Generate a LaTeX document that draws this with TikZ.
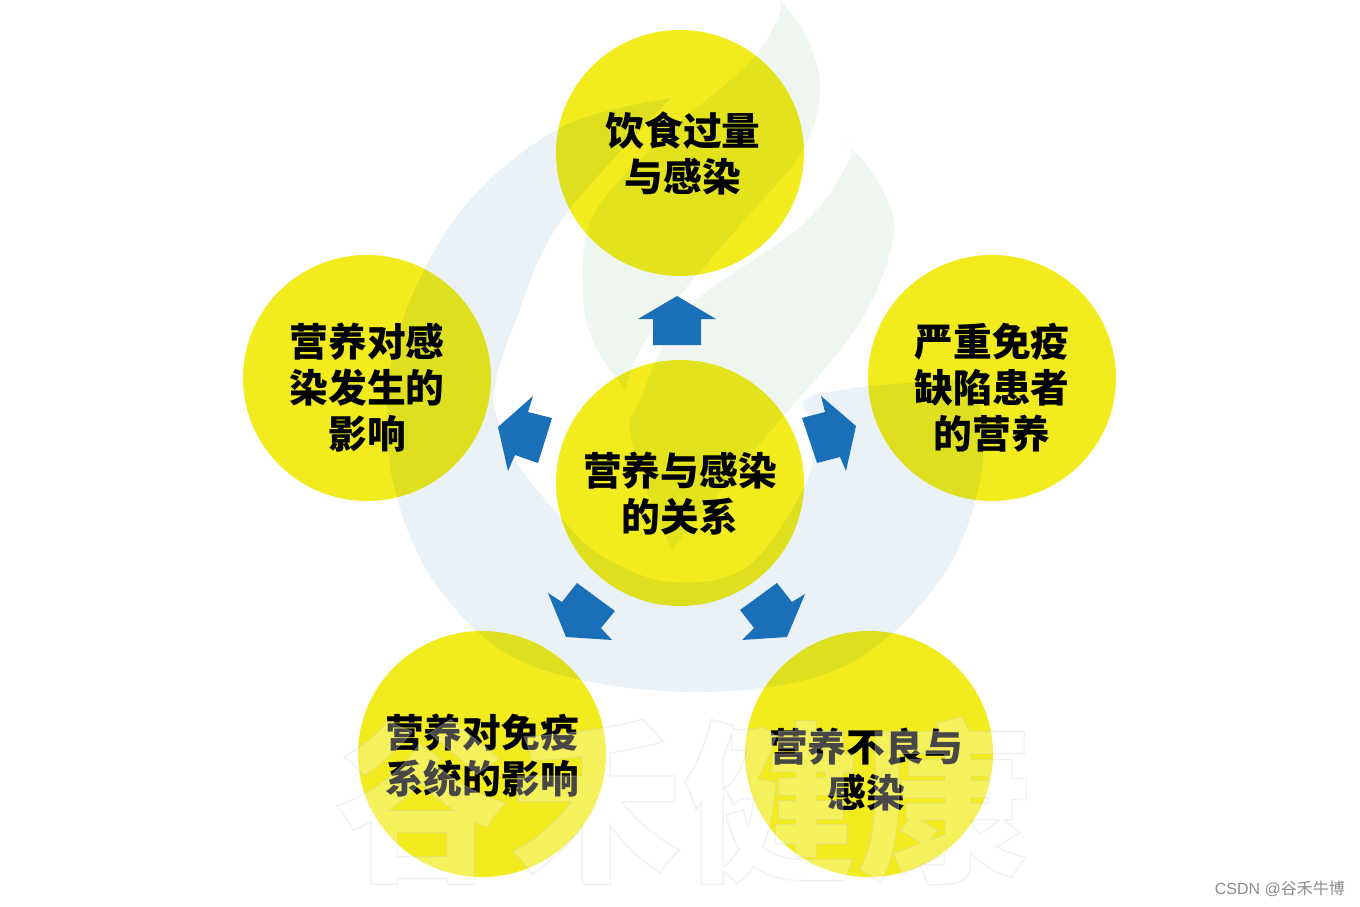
\documentclass[tikz,border=0pt]{standalone}
\usepackage{fontspec}
\setmainfont{Noto Sans CJK SC}
\newfontfamily\latinfont{Liberation Sans}
\usetikzlibrary{shapes.geometric}
\definecolor{disc}{HTML}{F2EC1F}
\definecolor{swoosh}{HTML}{EAF2F8}
\definecolor{flame}{HTML}{EFF6EF}
\definecolor{arrowblue}{HTML}{1A70B8}
\tikzset{
  disc/.style={ellipse,fill=disc,minimum width=248pt,minimum height=246pt,inner sep=0pt},
  lab/.style={align=center,text=black,inner sep=0pt,font=\bfseries\fontsize{38.7}{46}\selectfont},
  blockarrow/.style={fill=arrowblue,draw=none},
  mult/.style={blend mode=multiply}
}
\begin{document}
\begin{tikzpicture}[x=1pt,y=-1pt]
\useasboundingbox (0,0) rectangle (1360,907);
\fill[white] (0,0) rectangle (1360,907);
% discs
\node[disc] (top) at (680,153) {};
\node[disc] (right) at (992,378) {};
\node[disc] (left) at (367,378) {};
\node[disc] (mid) at (680,483) {};
\node[disc] (bl) at (482,754) {};
\node[disc] (br) at (869,754) {};
% background emblem
\begin{scope}[mult]
\fill[swoosh] (671,98)
  plot[smooth,tension=.6] coordinates {(671,98) (564,126) (470,200) (411,298) (388,390) (395,490) (440,590) (530,665) (690,692) (840,668) (940,580) (982,470) (975,378)}
  -- (868,386) -- (815,394) [rounded corners=6pt] -- (800,402) [sharp corners]
  -- plot[smooth,tension=.6] coordinates {(812,420) (813,447) (803,490) (747,567) (670,582) (600,555) (557,513) (517,463) (495,410) (496,380) (514,325) (560,222) (671,98)}
  -- cycle;
\fill[flame] plot[smooth,tension=.6] coordinates {(780,0) (808,40) (820,92) (801,153) (740,225) (671,306) (640,350) (625,390)}
  -- plot[smooth,tension=.6] coordinates {(625,390) (595,345) (583,295) (594,214) (667,134) (747,65) (778,19) (780,0)} -- cycle;
\fill[flame] plot[smooth,tension=.6] coordinates {(847,143) (880,185) (893,237) (858,325) (763,440) (700,515) (672,550)}
  -- plot[smooth,tension=.6] coordinates {(672,550) (650,500) (630,430) (640,400) (686,310) (801,226) (849,161) (847,143)} -- cycle;
\end{scope}
% arrows
\fill[blockarrow] (677,296) -- (716,319) -- (701,319) -- (701,345) -- (653,345) -- (653,319) -- (638,319) -- cycle;
\fill[blockarrow] (533,396) -- (528,412) -- (552,418) -- (538,463) -- (515,455) -- (508,471) -- (498,427) -- cycle;
\fill[blockarrow] (821,396) -- (825,412) -- (802,418) -- (817,463) -- (840,457) -- (846,471) -- (856,426) -- cycle;
\fill[blockarrow] (548,593) -- (562,602) -- (577,583) -- (615,611) -- (601,628) -- (612,640) -- (566,637) -- cycle;
\fill[blockarrow] (805,594) -- (792,602) -- (777,583) -- (740,610) -- (754,628) -- (742,640) -- (787,637) -- cycle;
% labels
\node[lab] (ltop) at (683,153) {饮食过量\\与感染};
\node[lab] (lright) at (992,388) {严重免疫\\缺陷患者\\的营养};
\node[lab] (lleft) at (367,388) {营养对感\\染发生的\\影响};
\node[lab] (lmid) at (680,494) {营养与感染\\的关系};
\node[lab] (lbl) at (482,756) {营养对免疫\\系统的影响};
\node[lab] (lbr) at (866,770) {营养不良与\\感染};
% outlined watermark
\node[inner sep=0pt,text opacity=.28,text=white] (mark) at (683,801) {\special{pdf:code 2 Tr 1.2 w 0.8 0.8 0.8 RG}\bfseries\fontsize{174}{174}\selectfont 谷禾健康\special{pdf:code 0 Tr}};
% credit
\node[text=black!45,inner sep=0pt,anchor=east,font=\fontsize{16}{16}\selectfont] (credit) at (1345,889) {{\latinfont CSDN @}谷禾牛博};
\end{tikzpicture}
\end{document}
